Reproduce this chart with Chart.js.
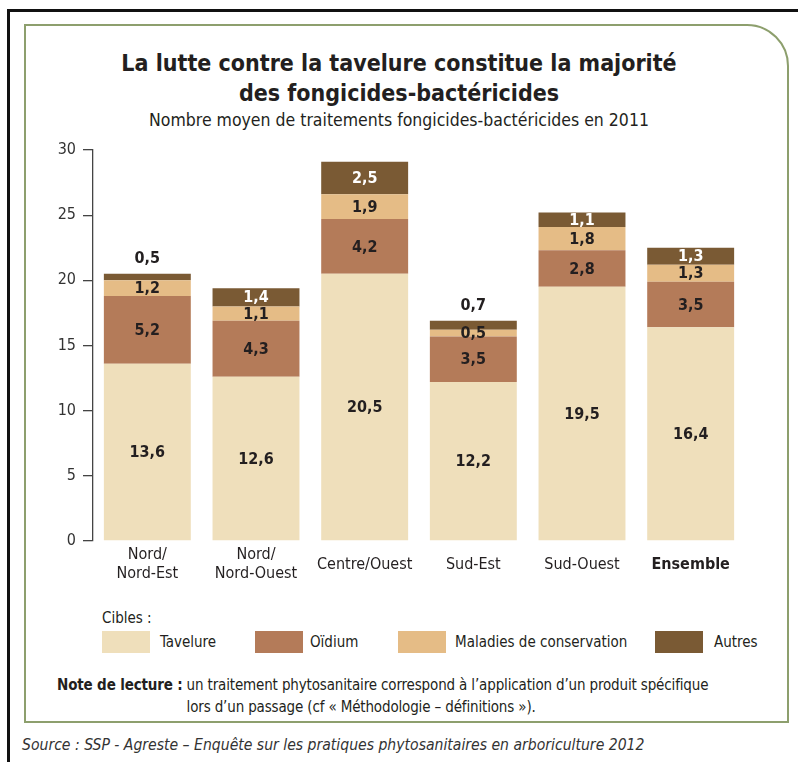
<!DOCTYPE html>
<html lang="fr">
<head>
<meta charset="utf-8">
<title>Tavelure - fongicides-bactéricides</title>
<script src="https://cdn.jsdelivr.net/npm/chart.js@4.4.1/dist/chart.umd.min.js"></script>
<style>
  html, body { margin: 0; padding: 0; background: #fff; }
  body { width: 798px; height: 762px; position: relative; overflow: hidden;
         font-family: "Liberation Sans Narrow", "DejaVu Sans Condensed", sans-serif; color: #231f20; }
  #cadre { position: absolute; left: 7px; top: 9px; width: 800px; height: 760px;
           border-left: 3px solid #111; border-top: 3px solid #111; }
  #boite { position: absolute; left: 24px; top: 24px; width: 761px; height: 695px;
           border: 2px solid #8d9f6d; border-top-right-radius: 42px; }
  #titre { position: absolute; left: 0; width: 798px; top: 48px; text-align: center;
           font-weight: bold; font-size: 23px; line-height: 30px; }
  #soustitre { position: absolute; left: 0; width: 798px; top: 110px; text-align: center;
               font-size: 17.5px; }
  canvas { position: absolute; left: 0; top: 0; }
  #cibles { position: absolute; left: 102px; top: 609px; font-size: 15px; }
  .leg { position: absolute; top: 631px; height: 22px; font-size: 15px; }
  .leg .sw { position: absolute; left: 0; top: 0; width: 48px; height: 22px; }
  .leg .tx { position: absolute; top: 2px; white-space: nowrap; }
  #note { position: absolute; left: 57px; top: 674px; font-size: 15px; line-height: 22px;
          letter-spacing: -0.15px; display: flex; }
  #note b { white-space: nowrap; margin-right: 4px; }
  #source { position: absolute; left: 22px; top: 736px; font-size: 15.6px; font-style: italic; color: #333; }
</style>
</head>
<body>
<div id="cadre"></div>
<div id="boite"></div>
<div id="titre">La lutte contre la tavelure constitue la majorité<br>des fongicides-bactéricides</div>
<div id="soustitre">Nombre moyen de traitements fongicides-bactéricides en 2011</div>
<canvas id="graphe" width="798" height="600"></canvas>
<div id="cibles">Cibles :</div>
<div id="legende"></div>
<div id="note"><b>Note de lecture :</b><span>un traitement phytosanitaire correspond à l’application d’un produit spécifique<br>lors d’un passage (cf « Méthodologie – définitions »).</span></div>
<div id="source">Source : SSP - Agreste – Enquête sur les pratiques phytosanitaires en arboriculture 2012</div>

<script>
// Données
const regions = [["Nord/", "Nord-Est"], ["Nord/", "Nord-Ouest"], "Centre/Ouest", "Sud-Est", "Sud-Ouest", "Ensemble"];
const cibles = ["Tavelure", "Oïdium", "Maladies de conservation", "Autres"];
const tavelure = [13.6, 12.6, 20.5, 12.2, 19.5, 16.4];
const oidium = [5.2, 4.3, 4.2, 3.5, 2.8, 3.5];
const maladiesConservation = [1.2, 1.1, 1.9, 0.5, 1.8, 1.3];
const autres = [0.5, 1.4, 2.5, 0.7, 1.1, 1.3];
const graduations = [0, 5, 10, 15, 20, 25, 30];

// Couleurs des cibles
const couleurs = ["#efdfbb", "#b47b59", "#e5bc86", "#7a5a34"];

const police = "'Liberation Sans Narrow', 'DejaVu Sans Condensed', sans-serif";

function virgule(v) {
  return v.toFixed(1).replace(".", ",");
}

// Légende en HTML (texte décalé à droite de la pastille)
const legPos = [
  { x: 102, tx: 58 },
  { x: 255, tx: 55 },
  { x: 398, tx: 57 },
  { x: 655, tx: 59 }
];
const legende = document.getElementById("legende");
cibles.forEach((nom, i) => {
  const d = document.createElement("div");
  d.className = "leg";
  d.style.left = legPos[i].x + "px";
  d.innerHTML = '<div class="sw" style="background:' + couleurs[i] + '"></div>' +
    '<div class="tx" style="left:' + legPos[i].tx + 'px">' + nom + '</div>';
  legende.appendChild(d);
});

// Plugin : valeurs dans les segments
const etiquettes = {
  id: "etiquettes",
  afterDatasetsDraw(chart) {
    const ctx = chart.ctx;
    ctx.save();
    ctx.font = "bold 16px " + police;
    ctx.textAlign = "center";
    ctx.textBaseline = "middle";
    chart.data.datasets.forEach((ds, di) => {
      const meta = chart.getDatasetMeta(di);
      meta.data.forEach((el, i) => {
        const v = ds.data[i];
        let y = (el.y + el.base) / 2;
        let col = "#231f20";
        if (di === 3) {
          if (v < 1) {
            y = el.y - 16;
          } else {
            col = "#ffffff";
          }
        }
        ctx.fillStyle = col;
        ctx.fillText(virgule(v), el.x, y + 1);
      });
    });
    ctx.restore();
  }
};

new Chart(document.getElementById("graphe"), {
  type: "bar",
  data: {
    labels: regions,
    datasets: [tavelure, oidium, maladiesConservation, autres].map((serie, i) => ({
      label: cibles[i],
      data: serie,
      backgroundColor: couleurs[i],
      borderWidth: 0,
      categoryPercentage: 0.8,
      barPercentage: 1
    }))
  },
  options: {
    responsive: false,
    animation: false,
    devicePixelRatio: 1,
    layout: { padding: { left: 0, right: 53, top: 150, bottom: 0 } },
    plugins: {
      legend: { display: false },
      title: { display: false },
      tooltip: { enabled: false }
    },
    scales: {
      x: {
        stacked: true,
        grid: { display: false },
        border: { display: false },
        ticks: {
          color: "#231f20",
          padding: 6,
          crossAlign: "center",
          font: ctx => ({ family: police, size: 16, lineHeight: 1.2, weight: ctx.index === 5 ? "bold" : "normal" })
        },
        afterFit: s => { s.height = 59; }
      },
      y: {
        stacked: true,
        min: 0,
        max: 30,
        afterBuildTicks: s => { s.ticks = graduations.map(v => ({ value: v })); },
        grid: { drawOnChartArea: false, drawTicks: true, tickLength: 10, color: "#444", lineWidth: 1.3 },
        border: { display: true, color: "#444", width: 1.3 },
        ticks: {
          color: "#333",
          padding: 7,
          font: { family: police, size: 16 }
        },
        afterFit: s => { s.width = 93; }
      }
    }
  },
  plugins: [etiquettes]
});
</script>
</body>
</html>
